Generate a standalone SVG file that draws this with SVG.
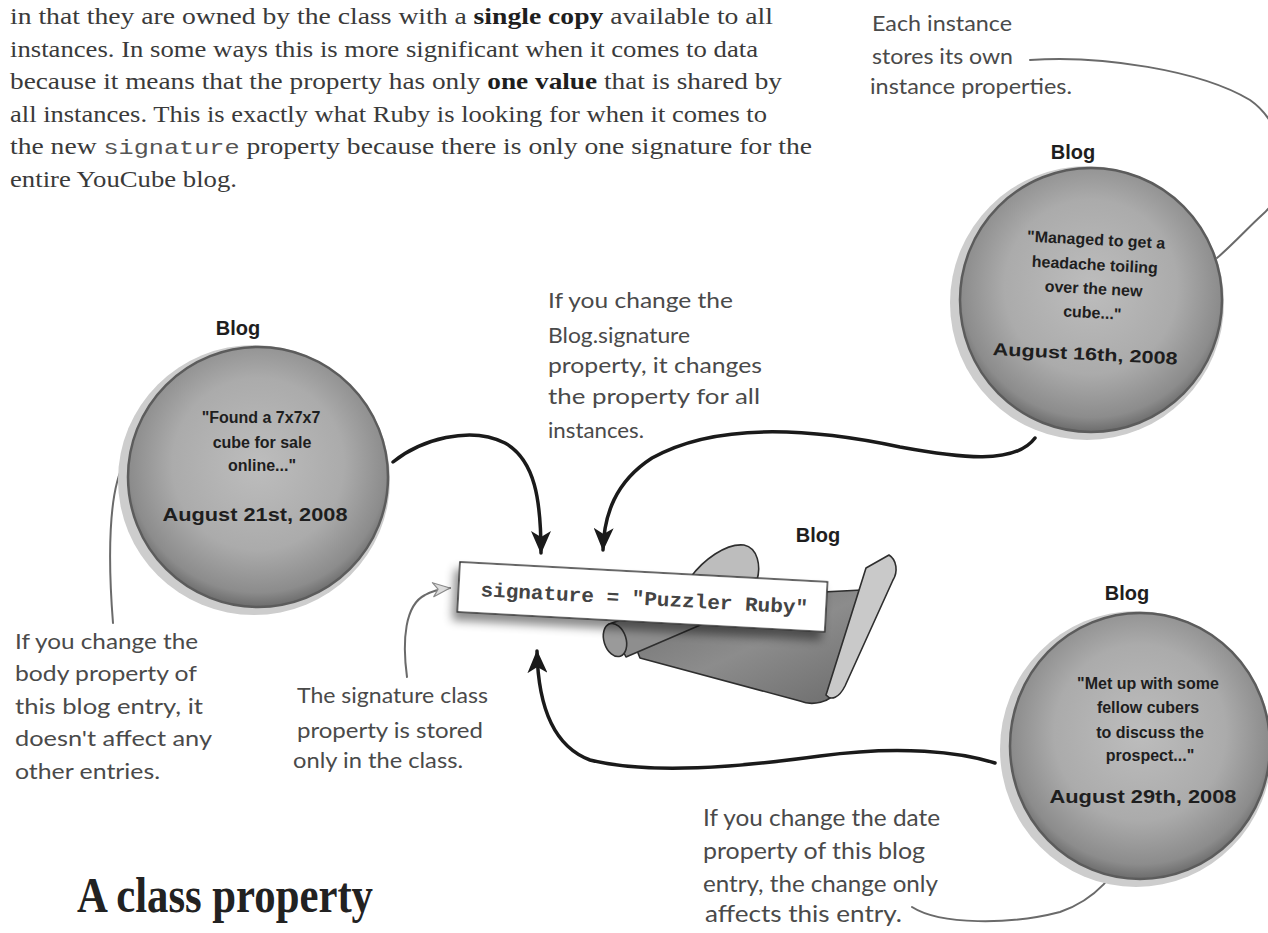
<svg xmlns="http://www.w3.org/2000/svg" width="1268" height="933" viewBox="0 0 1268 933">
  <defs>
    <style>
      .body { font-family: "Liberation Serif", "Times New Roman", serif; font-size: 23px; fill: #3a3a3a; }
      .body .b { font-weight: bold; fill: #1e1e1e; }
      .body .m { font-family: "Liberation Mono", "Courier New", monospace; font-size: 21px; fill: #555; }
      .hand { font-family: "Lato", "Open Sans", sans-serif; font-size: 21px; fill: #4a4a4a; }
      .hand-lg { font-family: "Lato", "Open Sans", sans-serif; font-size: 24px; fill: #4a4a4a; }
      .label { font-family: "Liberation Sans", Arial, sans-serif; font-size: 20px; font-weight: bold; fill: #1e1e1e; text-anchor: middle; }
      .entry { font-family: "Liberation Sans", Arial, sans-serif; font-size: 16px; font-weight: bold; fill: #1e1e1e; text-anchor: middle; }
      .date { font-family: "Liberation Sans", Arial, sans-serif; font-size: 17.5px; font-weight: bold; fill: #1e1e1e; text-anchor: middle; }
      .title { font-family: "Liberation Serif", "Times New Roman", serif; font-size: 50px; font-weight: bold; fill: #222; }
      .halo { fill: #cdcdcd; }
      .disc { fill: url(#discFill); stroke: #5c5c5c; stroke-width: 2.5; }
      .bold-arrow { fill: none; stroke: #1a1a1a; stroke-width: 3.5; stroke-linecap: round; marker-end: url(#blackHead); }
      .note-arrow { fill: none; stroke: #6a6a6a; stroke-width: 2; stroke-linecap: round; marker-end: url(#grayHead); }
      .outline { stroke: #2e2e2e; stroke-width: 1.6; stroke-linejoin: round; }
    </style>
    <radialGradient id="discFill" cx="50%" cy="45%" r="55%">
      <stop offset="0" stop-color="#bdbdbd"/>
      <stop offset="0.6" stop-color="#ababab"/>
      <stop offset="0.9" stop-color="#8c8c8c"/>
      <stop offset="1" stop-color="#6c6c6c"/>
    </radialGradient>
    <linearGradient id="sheetFill" x1="0" y1="0" x2="1" y2="1">
      <stop offset="0" stop-color="#6e6e6e"/>
      <stop offset="0.5" stop-color="#8c8c8c"/>
      <stop offset="1" stop-color="#6a6a6a"/>
    </linearGradient>
    <filter id="cardShadow" x="-10%" y="-30%" width="120%" height="180%">
      <feDropShadow dx="-4" dy="8" stdDeviation="5" flood-color="#000" flood-opacity="0.45"/>
    </filter>
    <marker id="blackHead" viewBox="0 0 24 20" refX="22" refY="10" markerWidth="24" markerHeight="20" markerUnits="userSpaceOnUse" orient="auto">
      <path d="M0,0 L23,10 L0,20 L6,10 Z" fill="#1a1a1a"/>
    </marker>
    <marker id="grayHead" viewBox="0 0 20 16" refX="18" refY="8" markerWidth="20" markerHeight="16" markerUnits="userSpaceOnUse" orient="auto">
      <path d="M1,1 L18,8 L1,15 L6,8 Z" fill="#dcdcdc" stroke="#8a8a8a" stroke-width="1.2" stroke-linejoin="round"/>
    </marker>
  </defs>

  <rect width="1268" height="933" fill="#ffffff"/>

  <!-- intro paragraph -->
  <g id="intro">
    <text class="body" x="10" y="24" textLength="763" lengthAdjust="spacingAndGlyphs">in that they are owned by the class with a <tspan class="b">single copy</tspan> available to all</text>
    <text class="body" x="10" y="57" textLength="748" lengthAdjust="spacingAndGlyphs">instances. In some ways this is more significant when it comes to data</text>
    <text class="body" x="10" y="89" textLength="772" lengthAdjust="spacingAndGlyphs">because it means that the property has only <tspan class="b">one value</tspan> that is shared by</text>
    <text class="body" x="10" y="122" textLength="757" lengthAdjust="spacingAndGlyphs">all instances. This is exactly what Ruby is looking for when it comes to</text>
    <text class="body" x="10" y="154" textLength="802" lengthAdjust="spacingAndGlyphs">the new <tspan class="m">signature</tspan> property because there is only one signature for the</text>
    <text class="body" x="10" y="187" textLength="227" lengthAdjust="spacingAndGlyphs">entire YouCube blog.</text>
  </g>

  <!-- connectors -->
  <g id="connectors">
    <path class="bold-arrow" d="M393,462 C420,440 470,425 505,443 C535,460 541,500 541,553"/>
    <path class="bold-arrow" d="M1035,438 C1015,465 960,458 900,447 C820,430 720,420 652,458 C615,482 604,515 603,550"/>
    <path class="bold-arrow" d="M995,763 C960,752 900,745 820,756 C740,767 650,775 590,760 C550,745 538,700 537,651"/>
    <path class="note-arrow" d="M113,623 C108,560 108,490 125,462 C135,450 150,447 166,447"/>
    <path class="note-arrow" d="M407,677 C402,640 405,605 425,595 C432,591 440,589 450,588"/>
    <path class="note-arrow" d="M1030,60 C1100,55 1200,70 1250,100 C1290,128 1292,190 1262,215 C1240,235 1222,258 1183,284"/>
    <path class="note-arrow" d="M912,907 C940,925 1010,925 1060,912 C1095,900 1117,875 1133,838"/>
  </g>

  <!-- instance: August 21st -->
  <g id="blog-aug21">
    <text class="label" x="238" y="335">Blog</text>
    <ellipse class="halo" cx="254" cy="480" rx="136" ry="135"/>
    <ellipse class="disc" cx="258" cy="477" rx="130" ry="130"/>
    <text class="entry" x="261" y="423">"Found a 7x7x7</text>
    <text class="entry" x="262" y="448">cube for sale</text>
    <text class="entry" x="262" y="471">online..."</text>
    <text class="date" x="255" y="521" textLength="185" lengthAdjust="spacingAndGlyphs">August 21st, 2008</text>
  </g>

  <!-- instance: August 16th -->
  <g id="blog-aug16">
    <text class="label" x="1073" y="159">Blog</text>
    <ellipse class="halo" cx="1087" cy="303" rx="137" ry="137"/>
    <ellipse class="disc" cx="1091" cy="300" rx="131" ry="132"/>
    <g transform="rotate(3 1091 300)">
      <text class="entry" x="1093" y="245">"Managed to get a</text>
      <text class="entry" x="1093" y="270">headache toiling</text>
      <text class="entry" x="1093" y="294">over the new</text>
      <text class="entry" x="1093" y="318">cube..."</text>
      <text class="date" x="1088" y="360" textLength="185" lengthAdjust="spacingAndGlyphs">August 16th, 2008</text>
    </g>
  </g>

  <!-- instance: August 29th -->
  <g id="blog-aug29">
    <text class="label" x="1127" y="600">Blog</text>
    <ellipse class="halo" cx="1136" cy="749" rx="136" ry="138"/>
    <ellipse class="disc" cx="1140" cy="746" rx="130" ry="133"/>
    <text class="entry" x="1148" y="689">"Met up with some</text>
    <text class="entry" x="1148" y="713">fellow cubers</text>
    <text class="entry" x="1150" y="738">to discuss the</text>
    <text class="entry" x="1150" y="761">prospect..."</text>
    <text class="date" x="1143" y="803" textLength="187" lengthAdjust="spacingAndGlyphs">August 29th, 2008</text>
  </g>

  <!-- class: scroll with the shared signature property -->
  <g id="blog-class">
    <text class="label" x="818" y="542">Blog</text>
    <path class="outline" d="M690,578 C703,560 726,543 744,545 C758,548 761,566 757,580 Z" fill="#bdbdbd"/>
    <path class="outline" d="M628,628 L705,598 L862,590 L878,600 L838,690 C830,703 812,706 800,701 L640,658 Z" fill="url(#sheetFill)"/>
    <path class="outline" d="M609,624 L700,592 L712,620 L626,657 Z" fill="#8e8e8e"/>
    <ellipse class="outline" cx="615" cy="640" rx="11" ry="17" transform="rotate(-18 615 640)" fill="#9a9a9a"/>
    <path class="outline" d="M866,568 L889,555 C897,560 898,572 893,580 L845,686 C839,698 831,701 826,695 Z" fill="#c9c9c9"/>
    <g transform="translate(460,562) rotate(3.1)">
      <rect x="0" y="0" width="368" height="50" fill="#ffffff" stroke="#333" stroke-width="1.5" filter="url(#cardShadow)"/>
      <text x="22" y="33" textLength="328" lengthAdjust="spacingAndGlyphs" style="font-family: 'Liberation Mono', 'Courier New', monospace; font-size: 20px; font-weight: bold; fill: #444;">signature = "Puzzler Ruby"</text>
    </g>
  </g>

  <!-- handwritten notes -->
  <g id="note-instances">
    <text class="hand" x="872" y="31" textLength="140" lengthAdjust="spacingAndGlyphs">Each instance</text>
    <text class="hand" x="872" y="64" textLength="141" lengthAdjust="spacingAndGlyphs">stores its own</text>
    <text class="hand" x="870" y="94" textLength="202" lengthAdjust="spacingAndGlyphs">instance properties.</text>
  </g>
  <g id="note-class-change">
    <text class="hand" x="548" y="308" textLength="185" lengthAdjust="spacingAndGlyphs">If you change the</text>
    <text class="hand" x="548" y="343" textLength="142" lengthAdjust="spacingAndGlyphs">Blog.signature</text>
    <text class="hand" x="548" y="373" textLength="214" lengthAdjust="spacingAndGlyphs">property, it changes</text>
    <text class="hand" x="548" y="404" textLength="212" lengthAdjust="spacingAndGlyphs">the property for all</text>
    <text class="hand" x="548" y="438" textLength="96" lengthAdjust="spacingAndGlyphs">instances.</text>
  </g>
  <g id="note-body">
    <text class="hand" x="15" y="649" textLength="183" lengthAdjust="spacingAndGlyphs">If you change the</text>
    <text class="hand" x="15" y="681" textLength="182" lengthAdjust="spacingAndGlyphs">body property of</text>
    <text class="hand" x="15" y="714" textLength="188" lengthAdjust="spacingAndGlyphs">this blog entry, it</text>
    <text class="hand" x="15" y="746" textLength="197" lengthAdjust="spacingAndGlyphs">doesn't affect any</text>
    <text class="hand" x="15" y="779" textLength="145" lengthAdjust="spacingAndGlyphs">other entries.</text>
  </g>
  <g id="note-stored">
    <text class="hand" x="297" y="703" textLength="191" lengthAdjust="spacingAndGlyphs">The signature class</text>
    <text class="hand" x="297" y="738" textLength="186" lengthAdjust="spacingAndGlyphs">property is stored</text>
    <text class="hand" x="293" y="768" textLength="170" lengthAdjust="spacingAndGlyphs">only in the class.</text>
  </g>
  <g id="note-date">
    <text class="hand-lg" x="703" y="826" textLength="237" lengthAdjust="spacingAndGlyphs">If you change the date</text>
    <text class="hand-lg" x="703" y="859" textLength="222" lengthAdjust="spacingAndGlyphs">property of this blog</text>
    <text class="hand-lg" x="703" y="892" textLength="235" lengthAdjust="spacingAndGlyphs">entry, the change only</text>
    <text class="hand-lg" x="705" y="922" textLength="197" lengthAdjust="spacingAndGlyphs">affects this entry.</text>
  </g>

  <text class="title" x="77" y="912" textLength="296" lengthAdjust="spacingAndGlyphs">A class property</text>
</svg>
